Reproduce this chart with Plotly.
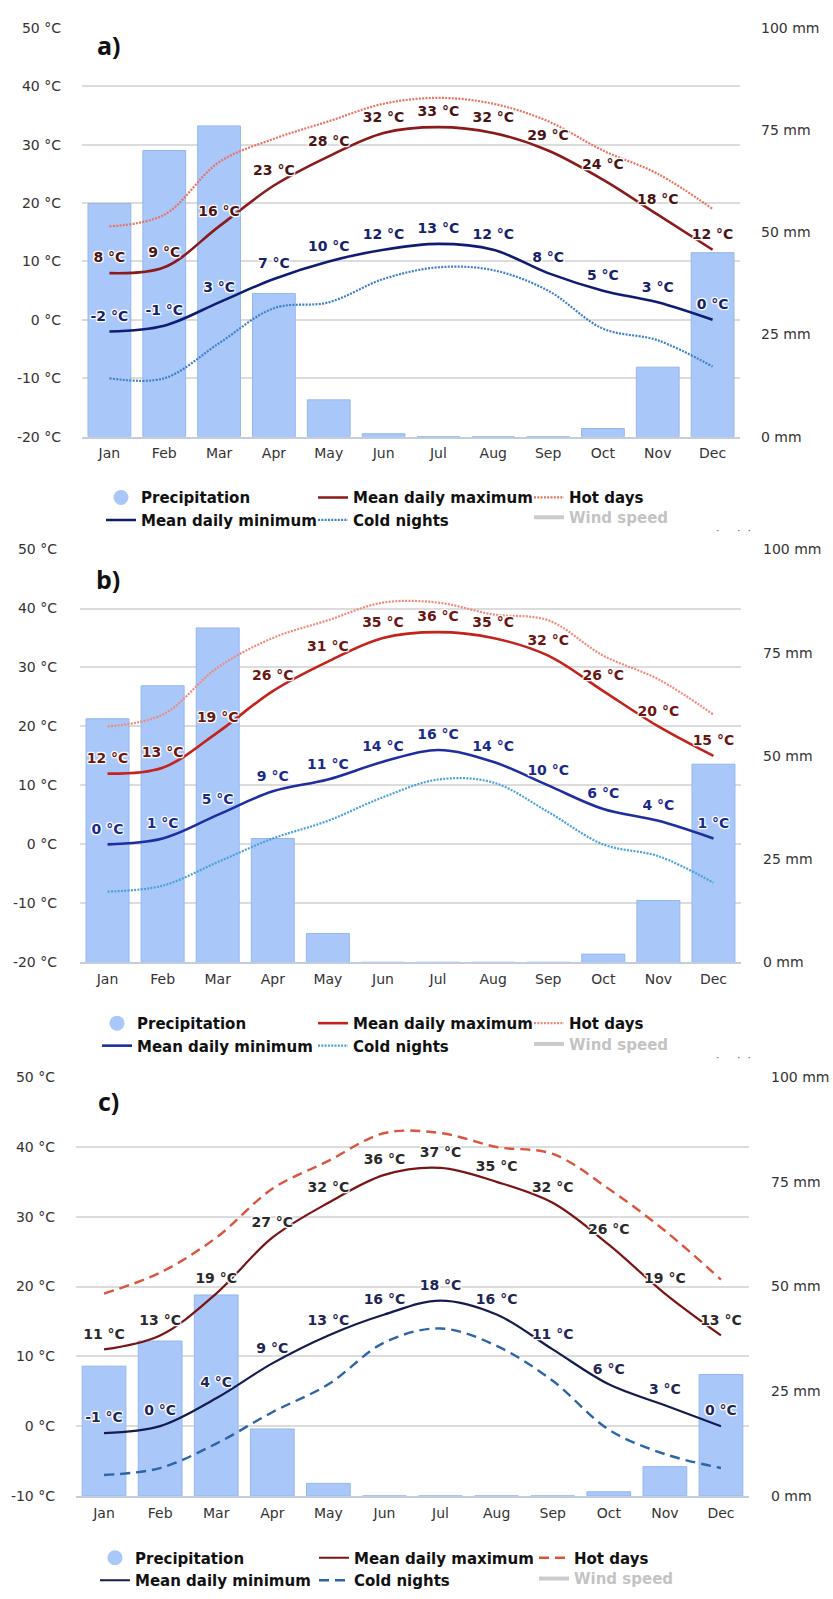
import plotly.graph_objects as go

months = ["Jan", "Feb", "Mar", "Apr", "May", "Jun", "Jul", "Aug", "Sep", "Oct", "Nov", "Dec"]

# Panel a
precip_a = [57, 70, 76, 35, 9, 0.7, 0, 0, 0, 2, 17, 45]
tmax_a = [8, 9, 16, 23, 28, 32, 33, 32, 29, 24, 18, 12]
tmin_a = [-2, -1, 3, 7, 10, 12, 13, 12, 8, 5, 3, 0]
hot_a = [16, 18, 27, 31, 34, 37, 38, 37, 34, 29, 25, 19]
cold_a = [-10, -10, -4, 2, 3, 7, 9, 8.5, 5, -1.5, -3.5, -8]

# Panel b
precip_b = [59, 67, 81, 30, 7, 0, 0, 0, 0, 2, 15, 48]
tmax_b = [12, 13, 19, 26, 31, 35, 36, 35, 32, 26, 20, 15]
tmin_b = [0, 1, 5, 9, 11, 14, 16, 14, 10, 6, 4, 1]
hot_b = [20, 22, 30, 35, 38, 41, 41, 39, 38, 32, 28, 22]
cold_b = [-8, -7, -3, 1, 4, 8, 11, 10.5, 5.5, 0, -2, -6.5]

# Panel c
precip_c = [31, 37, 48, 16, 3, 0, 0, 0, 0, 1, 7, 29]
tmax_c = [11, 13, 19, 27, 32, 36, 37, 35, 32, 26, 19, 13]
tmin_c = [-1, 0, 4, 9, 13, 16, 18, 16, 11, 6, 3, 0]
hot_c = [19, 22, 27, 34, 38, 42, 42, 40, 39, 34, 28, 21]
cold_c = [-7, -6, -2.5, 2, 6, 12, 14, 11.5, 6.5, -0.5, -4, -6]

# Wind speed series is hidden in the original (legend only)
wind_hidden = [None] * 12

temp_ticks_ab = [-20, -10, 0, 10, 20, 30, 40, 50]
temp_ticks_c = [-10, 0, 10, 20, 30, 40, 50]
precip_ticks = [0, 25, 50, 75, 100]

W, H = 833, 1599
def px(x):
    return x / W
def py(y):
    return 1 - y / H

FONT = "DejaVu Sans"
BAR = "#a9c8f9"
BAR_EDGE = "#93b6ef"
HALO = ("1px 1px 1px #fff, -1px -1px 1px #fff, 1px -1px 1px #fff, -1px 1px 1px #fff, "
        "0px 1px 1px #fff, 1px 0px 1px #fff, 0px -1px 1px #fff, -1px 0px 1px #fff")

panels = [
    dict(name="a)", precip=precip_a, tmax=tmax_a, tmin=tmin_a, hot=hot_a, cold=cold_a,
         x0=82, x1=740, ytop=20, ybot=433, trange=[-20, 50], tticks=temp_ticks_ab,
         maxc="#8b1a1a", maxlab="#4a1414", minc="#101c72", minlab="#16226b",
         hotc="#e8735f", coldc="#3d80c8", dash="2px,1.3px", lw=2.6, dw=2.2,
         textx=[141, 353, 569], row1=497, row2=517, labx=95, laby=37, lgap=20, rgap=20,
         dots=(714, 528)),
    dict(name="b)", precip=precip_b, tmax=tmax_b, tmin=tmin_b, hot=hot_b, cold=cold_b,
         x0=80, x1=741, ytop=547, ybot=964, trange=[-20, 50], tticks=temp_ticks_ab,
         maxc="#c4231c", maxlab="#6b1610", minc="#1e2ea0", minlab="#1a2a8a",
         hotc="#f08a7a", coldc="#4aa0d8", dash="2px,1.3px", lw=2.6, dw=2.2,
         textx=[137, 353, 569], row1=1028, row2=1049, labx=94, laby=577, lgap=22, rgap=21,
         dots=(714, 1060)),
    dict(name="c)", precip=precip_c, tmax=tmax_c, tmin=tmin_c, hot=hot_c, cold=cold_c,
         x0=76, x1=749, ytop=1080, ybot=1503, trange=[-10, 50], tticks=temp_ticks_c,
         maxc="#7a1414", maxlab="#2a2a2a", minc="#141c4e", minlab="#1e2656",
         hotc="#d9553c", coldc="#2c64a8", dash="10px,6px", lw=2.2, dw=2.4,
         textx=[135, 354, 574], row1=1568, row2=1589, labx=96, laby=1104, lgap=20, rgap=21,
         dots=None),
]

fig = go.Figure()
layout = dict(width=W, height=H, margin=dict(l=0, r=0, t=0, b=0),
              plot_bgcolor="white", paper_bgcolor="white", showlegend=True,
              bargap=0.22, annotations=[])

leg_idx = 0
for i, p in enumerate(panels):
    n = i + 1
    xa = "x" if n == 1 else f"x{n}"
    ybase = "y" if n == 1 else f"y{n}"          # precipitation (base, right)
    ytemp = f"y{n + 3}"                          # temperature (overlay, left)
    xkey = "xaxis" if n == 1 else f"xaxis{n}"
    ybkey = "yaxis" if n == 1 else f"yaxis{n}"
    ytkey = f"yaxis{n + 3}"

    legs = []
    for _ in range(4):
        leg_idx += 1
        legs.append("legend" if leg_idx == 1 else f"legend{leg_idx}")

    # bars (precipitation)
    fig.add_trace(go.Bar(x=months, y=p["precip"], xaxis=xa, yaxis=ybase,
                         marker=dict(color=BAR, line=dict(color=BAR_EDGE, width=1)),
                         showlegend=False, name="Precipitation", hoverinfo="skip"))
    # legend entry for precipitation with a circle symbol (no drawn points)
    fig.add_trace(go.Scatter(x=months, y=[None] * len(months), xaxis=xa, yaxis=ybase, mode="markers",
                             marker=dict(symbol="circle", size=15, color=BAR),
                             name="Precipitation", legend=legs[0], legendrank=1, hoverinfo="skip"))

    fig.add_trace(go.Scatter(x=months, y=p["hot"], xaxis=xa, yaxis=ytemp, mode="lines",
                             line=dict(color=p["hotc"], width=p["dw"], dash=p["dash"], shape="spline"),
                             name="Hot days", legend=legs[2]))
    fig.add_trace(go.Scatter(x=months, y=p["cold"], xaxis=xa, yaxis=ytemp, mode="lines",
                             line=dict(color=p["coldc"], width=p["dw"], dash=p["dash"], shape="spline"),
                             name="Cold nights", legend=legs[1], legendrank=2))
    fig.add_trace(go.Scatter(x=months, y=p["tmax"], xaxis=xa, yaxis=ytemp, mode="lines+markers+text",
                             line=dict(color=p["maxc"], width=p["lw"], shape="spline"),
                             marker=dict(size=10, color="rgba(0,0,0,0)"),
                             text=[f"{v} °C" for v in p["tmax"]], textposition="top center",
                             textfont=dict(family=FONT, size=14, color=p["maxlab"], weight="bold",
                                           shadow=HALO),
                             name="Mean daily maximum", legend=legs[1], legendrank=1))
    fig.add_trace(go.Scatter(x=months, y=p["tmin"], xaxis=xa, yaxis=ytemp, mode="lines+markers+text",
                             line=dict(color=p["minc"], width=p["lw"], shape="spline"),
                             marker=dict(size=10, color="rgba(0,0,0,0)"),
                             text=[f"{v} °C" for v in p["tmin"]], textposition="top center",
                             textfont=dict(family=FONT, size=14, color=p["minlab"], weight="bold",
                                           shadow=HALO),
                             name="Mean daily minimum", legend=legs[0], legendrank=2))
    fig.add_trace(go.Scatter(x=months, y=wind_hidden, xaxis=xa, yaxis=ytemp, mode="lines",
                             line=dict(color="#9a9a9a", width=4),
                             name="Wind speed", legend=legs[3], visible="legendonly"))

    dom_x = [px(p["x0"]), px(p["x1"])]
    dom_y = [py(p["ybot"]), py(p["ytop"])]
    layout[xkey] = dict(domain=dom_x, anchor=ybase, type="category",
                        categoryorder="array", categoryarray=months,
                        range=[-0.5, 11.5], showgrid=False, showline=True,
                        linecolor="#c3cde0", linewidth=2, ticks="",
                        tickfont=dict(family=FONT, size=14, color="#333"),
                        ticklabelstandoff=3, fixedrange=True)
    layout[ybkey] = dict(domain=dom_y, anchor=xa, side="right", range=[0, 100],
                         tickvals=precip_ticks, ticktext=[f"{v} mm" for v in precip_ticks],
                         showgrid=False, zeroline=False, showline=False, ticks="",
                         tickfont=dict(family=FONT, size=14, color="#333"),
                         ticklabelstandoff=p["rgap"])
    layout[ytkey] = dict(domain=dom_y, anchor=xa, overlaying=ybase, side="left",
                         range=p["trange"], tickvals=p["tticks"],
                         ticktext=[f"{v} °C" for v in p["tticks"]],
                         showgrid=True, gridcolor="#dcdcdc", gridwidth=1.6,
                         zeroline=False, showline=False, ticks="",
                         tickfont=dict(family=FONT, size=14, color="#333"),
                         ticklabelstandoff=p["lgap"])

    # legends (one column / cell each, to keep the original grid alignment)
    lf = dict(family=FONT, size=15, color="#111", weight="bold")
    cols = [(p["textx"][0], p["row1"], legs[0], lf), (p["textx"][1], p["row1"], legs[1], lf),
            (p["textx"][2], p["row1"], legs[2], lf),
            (p["textx"][2], p["row2"], legs[3], dict(family=FONT, size=15, color="#888", weight="bold"))]
    for tx, ty, lg, f in cols:
        layout[lg] = dict(x=px(tx - 40), y=py(ty - 19), xanchor="left", yanchor="top",
                          orientation="v", font=f,
                          bgcolor="rgba(0,0,0,0)", borderwidth=0, tracegroupgap=0,
                          itemclick=False, itemdoubleclick=False, traceorder="normal")

    layout["annotations"].append(dict(text=p["name"], x=px(p["labx"]), y=py(p["laby"]),
                                      xref="paper", yref="paper", xanchor="left", yanchor="middle",
                                      showarrow=False,
                                      font=dict(family="Open Sans", size=25, color="#111", weight="bold")))
    if p["dots"]:
        layout["annotations"].append(dict(text="·     ·  ·", x=px(p["dots"][0]), y=py(p["dots"][1]),
                                          xref="paper", yref="paper", xanchor="left", yanchor="middle",
                                          showarrow=False, font=dict(family=FONT, size=11, color="#666")))

fig.update_layout(**layout)
fig.write_html("out.html", config={"displayModeBar": False},
               post_script="document.body.style.margin='0px';")
